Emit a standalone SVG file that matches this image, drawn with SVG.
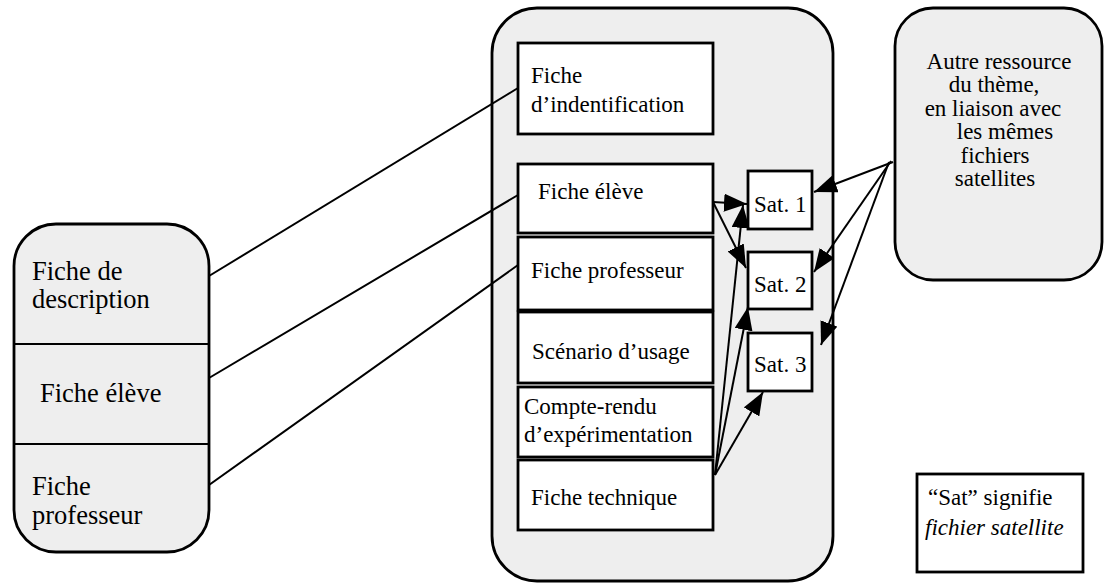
<svg xmlns="http://www.w3.org/2000/svg" width="1109" height="583" viewBox="0 0 1109 583">
<style>
  .grp { fill: #eeeeee; stroke: #000; stroke-width: 2.8; }
  .box { fill: #ffffff; stroke: #000; stroke-width: 2.8; }
  .ln { stroke: #000; stroke-width: 2; fill: none; }
  .arr { stroke: #000; stroke-width: 2; fill: none; marker-end: url(#ah); }
  text { font-family: "Liberation Serif", "Times New Roman", serif; font-size: 23px; fill: #000; }
  .big { font-size: 26.5px; }
  .mid { text-anchor: middle; }
</style>
<defs>
  <marker id="ah" markerUnits="userSpaceOnUse" markerWidth="24" markerHeight="18" refX="23" refY="9" orient="auto">
    <path d="M0,0 L23,9 L0,18 z" fill="#000"/>
  </marker>
</defs>
<rect width="1109" height="583" fill="#ffffff"/>

<g id="left-resource">
  <rect class="grp" x="14" y="224" width="195" height="328" rx="42" ry="42"/>
  <line class="ln" x1="14" y1="344" x2="209" y2="344"/>
  <line class="ln" x1="14" y1="444" x2="209" y2="444"/>
  <text class="big" x="32" y="280">Fiche de</text>
  <text class="big" x="32" y="308">description</text>
  <text class="big" x="40" y="402">Fiche élève</text>
  <text class="big" x="32" y="495">Fiche</text>
  <text class="big" x="32" y="524">professeur</text>
</g>

<g id="main-resource">
  <rect class="grp" x="492" y="8" width="341" height="573" rx="45" ry="45"/>
</g>
<g id="fiche-identification">
  <rect class="box" x="518" y="43" width="195" height="91"/>
  <text x="531" y="83">Fiche</text>
  <text x="531" y="112">d’indentification</text>
</g>
<g id="fiche-eleve">
  <rect class="box" x="518" y="164" width="195" height="69"/>
  <text x="538" y="199">Fiche élève</text>
</g>
<g id="fiche-professeur">
  <rect class="box" x="518" y="237" width="195" height="73"/>
  <text x="531" y="278">Fiche professeur</text>
</g>
<g id="scenario">
  <rect class="box" x="518" y="312" width="195" height="71"/>
  <text x="532" y="359">Scénario d’usage</text>
</g>
<g id="compte-rendu">
  <rect class="box" x="518" y="387" width="195" height="70"/>
  <text x="524" y="414">Compte-rendu</text>
  <text x="524" y="442">d’expérimentation</text>
</g>
<g id="fiche-technique">
  <rect class="box" x="518" y="460" width="195" height="70"/>
  <text x="531" y="505">Fiche technique</text>
</g>
<g id="sat1">
  <rect class="box" x="748" y="171" width="64" height="58"/>
  <text x="754" y="212">Sat. 1</text>
</g>
<g id="sat2">
  <rect class="box" x="748" y="252" width="64" height="57"/>
  <text x="754" y="292">Sat. 2</text>
</g>
<g id="sat3">
  <rect class="box" x="748" y="333" width="64" height="58"/>
  <text x="754" y="372">Sat. 3</text>
</g>

<g id="other-resource">
  <rect class="grp" x="895" y="8" width="207" height="272" rx="38" ry="38"/>
  <text class="mid" x="999" y="69">Autre ressource</text>
  <text class="mid" x="994" y="92">du thème,</text>
  <text class="mid" x="993" y="116">en liaison avec</text>
  <text class="mid" x="1005" y="139">les mêmes</text>
  <text class="mid" x="995" y="163">fichiers</text>
  <text class="mid" x="995" y="186">satellites</text>
</g>

<g id="legend">
  <rect class="box" x="917" y="474" width="166" height="98"/>
  <text x="928" y="505">“Sat” signifie</text>
  <text x="925" y="535" font-style="italic">fichier satellite</text>
</g>

<g id="connectors">
  <line class="ln" x1="209" y1="276" x2="518" y2="88"/>
  <line class="ln" x1="209" y1="378" x2="518" y2="195"/>
  <line class="ln" x1="209" y1="485" x2="518" y2="265"/>
  <path class="arr" d="M713,202 L747,204"/>
  <path class="arr" d="M713,202 L746,268"/>
  <path class="arr" d="M715,475 L743,205"/>
  <path class="arr" d="M715,475 L748,307"/>
  <path class="arr" d="M715,475 L763,392"/>
  <path class="arr" d="M893,162 L814,192"/>
  <path class="arr" d="M891,161 L814,272"/>
  <path class="arr" d="M889,162 L821,345"/>
</g>
</svg>
